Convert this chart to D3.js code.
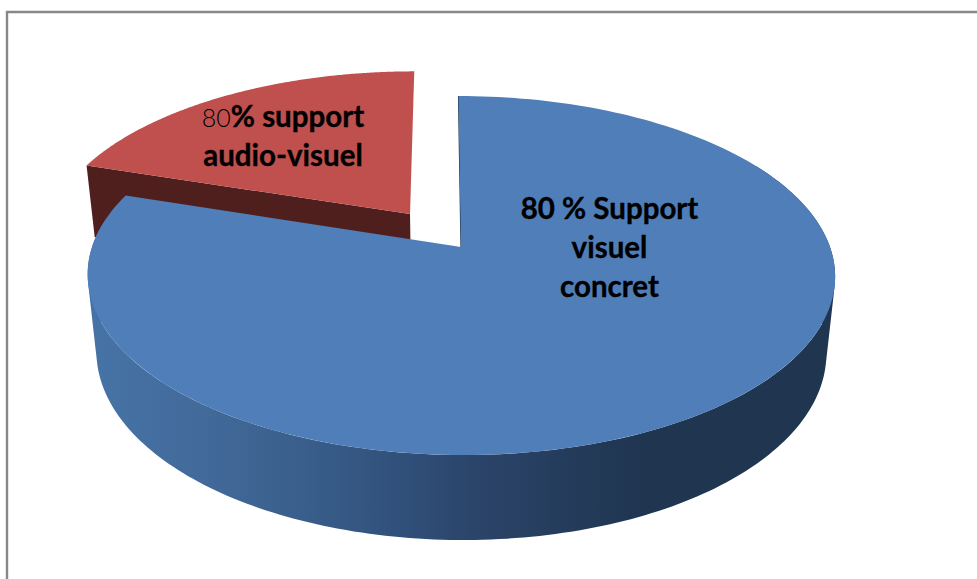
<!DOCTYPE html>
<html>
<head>
<meta charset="utf-8">
<script src="https://cdnjs.cloudflare.com/ajax/libs/d3/7.8.5/d3.min.js"></script>
<style>
  html, body { margin: 0; padding: 0; background: #fff; overflow: hidden; }
  svg { display: block; }
  text { font-family: Lato, "Open Sans", sans-serif; font-weight: 700; fill: #000; stroke: #000; stroke-width: 0.35px; }
</style>
</head>
<body>
<script>
// chart values
const categories = ["Support visuel concret", "Support audio-visuel"];
const values = [80, 20];
const explode = [0, 0.24];
const sliceLabels = [
  [[{ t: "80 % Support" }], [{ t: "visuel" }], [{ t: "concret" }]],
  [[{ t: "80", light: true }, { t: "% support" }], [{ t: "audio-visuel" }]]
];

const width = 977, height = 579;

const svg = d3.select("body").append("svg")
  .attr("width", width)
  .attr("height", height);

// frame of the picture
svg.append("path")
  .attr("d", "M7,579V12H977")
  .attr("fill", "none")
  .attr("stroke", "#888")
  .attr("stroke-width", 2.4);

// perspective view of the pie plane
const apex = [461, 247], radius = 369, persp = -0.1588;
function upper(u, v) {
  const w = 1 + persp * v;
  return [apex[0] + 2.5 * v + radius * u / w, (135.75 * v + apex[1]) / w];
}
// same point on the lower face of the pie
function lower(u, v) {
  const p = upper(u, v), dy = 76 + 9 * v;
  return [p[0] + (apex[0] - p[0]) * dy / 3300, p[1] + dy];
}

const pie = d3.pie().sort(null).value(d => d);
const slices = pie(values).map((d, i) => {
  const mid = (d.startAngle + d.endAngle) / 2;
  return {
    start: d.startAngle, end: d.endAngle,
    ou: explode[i] * Math.sin(mid),
    ov: -explode[i] * Math.cos(mid)
  };
});

const line = d3.line();
const onRim = (s, a, fn) => fn(s.ou + Math.sin(a), s.ov - Math.cos(a));
function rim(s, a0, a1, fn) {
  return d3.range(0, 201).map(i => onRim(s, a0 + (a1 - a0) * i / 200, fn));
}

// outer wall as one path of small quads, all wound the same way so the
// silhouette between the two rims is filled too
function wall(s, a0, a1) {
  const up = rim(s, a0, a1, upper), lo = rim(s, a0, a1, lower);
  return d3.range(0, 200).map(i => {
    const q = [up[i], up[i + 1], lo[i + 1], lo[i]];
    if (d3.polygonArea(q) < 0) q.reverse();
    return line(q) + "Z";
  }).join("");
}

// gradient of the blue outer wall
const grad = svg.append("defs").append("linearGradient")
  .attr("id", "wall")
  .attr("gradientUnits", "userSpaceOnUse")
  .attr("x1", 92).attr("x2", 830).attr("y1", 0).attr("y2", 0);
[[0, "#4673a6"], [0.15, "#426a9a"], [0.28, "#3a5f8c"], [0.42, "#30507a"], [0.52, "#2b4469"], [0.75, "#1f3550"], [1, "#1f3550"]]
  .forEach(d => grad.append("stop").attr("offset", d[0]).attr("stop-color", d[1]));

const [blue, red] = slices;

// red slice, cut wall then top
const redStart = onRim(red, red.start, upper), redApex = upper(red.ou, red.ov);
svg.append("path")
  .attr("d", line([redStart, redApex, lower(red.ou, red.ov), onRim(red, red.start, lower)]) + "Z")
  .attr("fill", "#4f1f1e");
svg.append("path")
  .attr("d", line([redApex].concat(rim(red, red.start, red.end, upper))) + "Z")
  .attr("fill", "#c0504d");

// blue slice, outer wall then top
svg.append("path")
  .attr("d", wall(blue, Math.PI / 3, blue.end - 0.15))
  .attr("fill", "url(#wall)");
svg.append("path")
  .attr("d", line([upper(0, 0), upper(0, -1)]))
  .attr("stroke", "#1f3550")
  .attr("stroke-width", 1.2);
svg.append("path")
  .attr("d", line([upper(0, 0)].concat(rim(blue, blue.start, blue.end, upper))) + "Z")
  .attr("fill", "#4f7eb9");

// labels, real text
const labelPos = [[609.5, 219, 39], [283, 127, 39]];
const labelSize = 29.5, lightSize = 25;
sliceLabels.forEach((lines, i) => {
  const txt = svg.append("text")
    .attr("text-anchor", "middle")
    .attr("font-size", labelSize);
  lines.forEach((runs, j) => {
    runs.forEach((r, k) => {
      const ts = txt.append("tspan").text(r.t);
      if (k === 0) ts.attr("x", labelPos[i][0]).attr("y", labelPos[i][1] + j * labelPos[i][2]);
      if (r.light) ts.style("font-weight", 300).style("stroke", "none").attr("font-size", lightSize);
    });
  });
});
</script>
</body>
</html>
